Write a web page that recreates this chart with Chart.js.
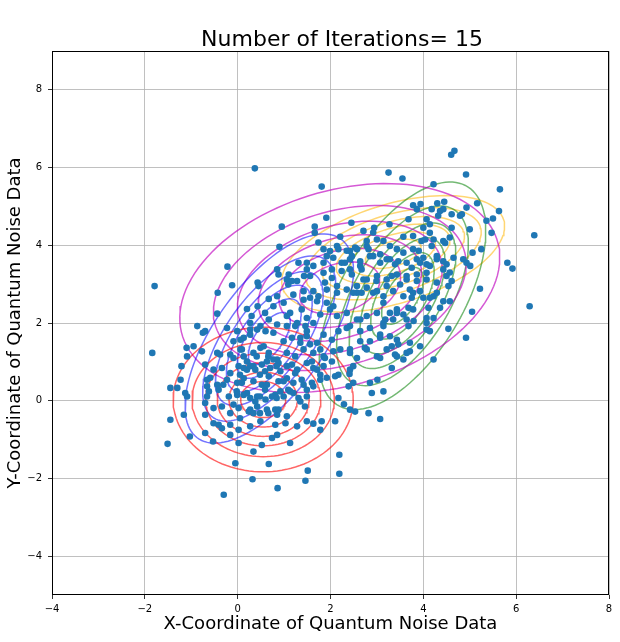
<!DOCTYPE html>
<html>
<head>
<meta charset="utf-8">
<script src="https://cdn.jsdelivr.net/npm/chart.js@4.4.1/dist/chart.umd.min.js"></script>
<style>
  html, body { margin: 0; padding: 0; background: #fff; }
  canvas { display: block; }
</style>
</head>
<body>
<canvas id="myChart" width="620" height="642"></canvas>
<script>
// Pontos (x, y)
const noisePoints = [
  [4.60,6.33],[4.67,6.43],[0.37,5.98],[3.25,5.87],[3.55,5.72],[4.92,5.82],[4.22,5.57],[1.81,5.51],[5.65,5.44],[5.16,5.08],
  [5.63,4.88],[5.50,4.69],[5.36,4.63],[5.47,4.32],[3.78,5.03],[3.94,5.06],[4.30,5.08],[4.45,5.12],[3.86,4.93],[4.18,4.93],
  [4.36,4.88],[4.43,4.93],[3.68,4.67],[4.07,4.67],[4.61,4.80],[4.79,4.76],[4.93,4.97],[1.91,4.71],[2.45,4.58],[3.27,4.54],
  [2.71,4.37],[2.94,4.45],[0.95,4.48],[1.66,4.48],[1.66,4.32],[5.00,4.41],[4.61,4.45],[4.00,4.45],[4.14,4.32],[4.22,4.15],
  [4.43,4.11],[4.57,4.20],[3.57,4.22],[3.78,4.24],[3.96,4.11],[0.90,3.96],[2.21,4.22],[2.14,3.98],[1.74,4.07],[1.85,3.90],
  [1.99,3.85],[2.42,3.85],[2.57,3.90],[2.78,3.98],[3.00,4.15],[3.14,4.11],[3.28,3.98],[3.43,3.90],[3.57,3.81],[3.78,3.90],
  [5.06,3.81],[5.25,3.90],[4.86,3.64],[5.81,3.55],[5.92,3.40],[-0.22,3.45],[1.49,3.55],[1.63,3.47],[1.85,3.55],[2.06,3.68],
  [2.24,3.55],[2.42,3.64],[2.64,3.59],[2.85,3.72],[3.07,3.77],[3.28,3.64],[3.46,3.59],[3.64,3.55],[3.86,3.64],[4.07,3.51],
  [4.29,3.64],[4.50,3.51],[4.65,3.68],[0.85,3.38],[0.88,3.25],[1.31,3.55],[1.10,3.25],[1.28,3.08],[1.43,3.21],[1.85,3.29],
  [2.03,3.16],[2.24,3.34],[2.46,3.25],[2.67,3.38],[2.78,3.12],[3.00,3.21],[3.21,3.12],[3.43,3.25],[3.64,3.12],[3.86,3.25],
  [4.07,3.12],[4.29,3.04],[4.50,3.21],[4.61,3.08],[5.22,2.88],[-0.12,2.97],[0.43,3.04],[0.45,2.95],[-0.43,2.78],[1.20,2.73],
  [1.42,2.82],[1.56,2.65],[1.71,2.56],[1.92,2.86],[2.14,2.95],[2.35,2.86],[2.57,2.78],[2.78,2.91],[3.00,2.82],[3.14,2.69],
  [3.35,2.82],[3.57,2.69],[3.78,2.78],[4.00,2.65],[4.22,2.69],[4.43,2.56],[4.57,2.56],[5.05,2.29],[0.67,2.62],[0.85,2.69],
  [0.99,2.52],[0.20,2.36],[0.43,2.43],[-0.44,2.24],[1.13,2.26],[1.38,2.35],[1.49,2.13],[1.78,2.22],[1.99,2.35],[2.14,2.18],
  [2.35,2.26],[2.57,2.09],[2.78,2.18],[3.00,2.26],[3.18,2.09],[3.43,2.26],[3.64,2.09],[3.78,2.35],[4.07,2.00],[4.22,2.13],
  [4.54,1.85],[4.92,1.62],[-0.87,1.92],[-0.75,1.75],[-0.70,1.79],[-0.23,1.87],[-0.01,1.79],[0.27,2.00],[0.49,1.92],[0.67,2.09],
  [0.85,1.96],[1.06,1.92],[1.28,2.00],[1.46,1.92],[1.63,2.00],[1.85,1.70],[2.03,1.57],[2.17,1.79],[2.42,1.92],[2.64,1.79],
  [2.85,1.87],[3.07,1.70],[3.28,1.66],[3.43,1.57],[3.71,1.49],[3.93,1.40],[4.07,1.83],[4.22,1.06],[0.06,1.57],[0.27,1.70],
  [0.42,1.83],[0.60,1.79],[0.77,1.75],[0.99,1.53],[1.17,1.62],[1.35,1.49],[1.49,1.66],[1.71,1.49],[2.21,1.32],[2.42,1.23],
  [2.57,1.10],[2.78,1.32],[3.00,1.14],[3.21,1.32],[3.43,1.14],[3.64,1.23],[3.57,1.06],[-1.10,1.36],[-0.95,1.40],[-0.77,1.27],
  [-0.44,1.23],[-0.16,1.19],[0.06,1.32],[0.34,1.23],[0.49,1.36],[0.67,1.23],[0.85,1.06],[1.06,1.23],[1.24,1.14],[1.42,1.32],
  [1.63,1.23],[1.85,1.14],[-1.21,0.89],[-1.23,0.54],[-1.45,0.33],[-1.30,0.33],[-1.13,0.20],[-1.09,0.11],[-0.70,0.93],[-0.52,0.80],
  [-0.34,0.84],[-0.16,0.71],[0.02,0.89],[0.20,0.80],[0.34,0.89],[0.52,0.93],[0.70,0.84],[0.88,0.97],[1.06,0.89],[1.28,0.80],
  [1.49,0.97],[1.71,0.80],[1.85,0.89],[2.10,0.63],[2.42,0.80],[2.49,0.46],[2.85,0.46],[3.01,0.54],[2.39,0.37],[-0.66,0.54],
  [-0.44,0.41],[-0.23,0.54],[-0.01,0.46],[0.13,0.58],[0.34,0.50],[0.52,0.41],[0.67,0.63],[0.88,0.50],[1.06,0.58],[1.20,0.46],
  [1.38,0.54],[1.60,0.46],[1.78,0.54],[2.17,0.07],[2.42,-0.23],[2.53,-0.28],[2.82,-0.32],[3.07,-0.47],[-0.62,0.24],[-0.41,0.28],
  [-0.19,0.11],[-0.01,0.15],[0.20,0.20],[0.27,0.07],[0.42,0.11],[0.60,0.03],[0.81,0.15],[0.99,0.11],[1.13,0.24],[1.31,0.07],
  [1.49,0.11],[-0.70,-0.06],[-0.52,-0.19],[-0.34,-0.15],[-0.16,-0.32],[0.02,-0.19],[0.24,-0.28],[0.42,-0.15],[0.63,-0.23],[0.85,-0.36],
  [1.06,-0.40],[-1.16,-0.36],[-1.45,-0.49],[-0.41,-0.62],[-0.34,-0.71],[-0.16,-0.88],[0.02,-0.75],[0.27,-0.66],[0.49,-0.53],[0.81,-0.62],
  [1.03,-0.58],[1.28,-0.66],[1.49,-0.53],[-1.03,-0.92],[-0.70,-0.83],[-0.53,-1.05],[0.02,-1.09],[0.52,-1.14],[0.85,-0.88],[1.13,-1.09],
  [1.63,-0.59],[1.78,-0.75],[2.10,-0.53],[-1.51,-1.11],[0.34,-1.31],[-0.05,-1.61],[0.67,-1.63],[2.19,-1.39],[1.51,-1.80],[2.19,-1.88],
  [0.32,-2.02],[1.46,-2.06],[0.86,-2.25],[-1.84,1.23],[-1.79,2.95],[6.29,2.43],[-0.30,-2.42],[6.39,4.26],
  [-1.09,1.14],[-0.59,0.59],[-0.66,0.37],[-0.66,0.11],[-0.70,-0.36],[-0.52,-0.58],[-0.16,-0.62],[0.05,-0.45],[-0.31,0.41],[-0.09,-0.10],
  [-0.02,0.24],[0.09,0.46],[0.05,0.67],[0.13,0.84],[0.20,1.01],[-0.38,1.19],[-0.09,1.10],[0.13,1.14],[0.27,0.89],[0.38,0.80],
  [0.48,0.67],[0.59,0.76],[0.63,1.01],[0.66,1.14],[0.41,1.14],[0.56,1.40],[0.13,0.15],[0.38,-0.02],[0.48,0.11],[0.59,0.28],
  [0.63,0.41],[0.74,0.11],[0.84,0.07],[0.92,0.24],[0.27,-0.23],[0.34,-0.32],[0.48,-0.32],[0.66,-0.32],[0.81,-0.23],[0.88,-0.23],
  [0.77,1.06],[0.84,0.89],[0.92,0.76],[1.17,0.93],[1.24,0.71],[0.99,0.50],[1.09,0.28],[1.20,0.20],[1.42,0.41],[1.49,0.28],
  [1.63,0.37],[1.60,1.01],[1.63,0.84],[1.78,0.67],[1.88,1.10],[1.35,-0.02],[1.45,-0.15],[1.81,-0.53],[0.74,-0.96],[0.13,1.62],
  [-0.09,1.53],[0.09,1.32],[0.27,1.83],[1.24,1.92],[1.35,1.62],[1.49,1.79],[1.56,1.45],[1.78,1.32],[2.06,1.27],[2.03,1.01],
  [2.17,0.67],[1.92,0.59],[2.92,4.33],[4.32,4.76],[4.14,4.54],[4.04,4.15],[4.18,3.98],[4.83,4.80],[4.93,3.55],[5.01,3.47],
  [4.54,2.95],[4.57,3.30],[4.29,2.78],[4.14,2.65],[4.11,2.39],[4.36,2.39],[4.43,3.38],[4.43,3.59],[4.47,4.06],[4.29,3.72],
  [4.14,3.47],[4.00,3.68],[3.90,3.86],[3.93,3.55],[3.75,3.42],[3.64,3.21],[3.50,2.99],[3.71,2.86],[3.21,2.95],[3.32,3.21],
  [3.39,3.51],[3.21,3.64],[3.07,3.55],[2.92,3.72],[2.82,3.90],[2.78,4.11],[2.53,3.94],[2.46,3.72],[2.35,3.86],[2.31,3.55],
  [2.42,3.38],[2.64,3.47],[2.71,3.12],[2.57,2.95],[2.49,2.78],[2.67,2.78],[2.92,2.78],[2.99,3.08],[3.14,2.52],[3.43,2.35],
  [3.68,2.39],[3.75,2.65],[3.93,2.82],[3.86,3.08],[4.07,3.29],[2.64,2.09],[3.28,2.26],[3.35,2.09],[3.57,2.22],[3.79,2.05],
  [4.07,2.13],[3.14,2.00],[2.35,1.87],[3.14,1.92],[3.68,1.92],[4.14,1.79],[2.64,1.53],[2.85,1.53],[2.74,1.36],[2.42,1.32],
  [3.07,1.62],[3.32,1.40],[3.46,1.45],[3.39,1.19],[3.71,1.27],[3.07,1.10],[3.32,0.84],[2.49,0.89],[2.41,0.69],[2.89,0.20],
  [3.14,0.24],[2.29,-0.09],[1.06,3.12],[1.17,3.08],[1.09,2.99],[0.30,2.18],[0.59,2.26],[0.77,2.43],[1.06,2.18],[1.49,3.38],
  [1.92,3.72],[1.56,3.21],[1.42,2.60],[1.63,2.82],[1.74,2.69],[1.88,3.04],[2.03,3.38],[2.14,2.78],[1.92,2.52],[2.06,2.43],
  [2.17,3.90]
];

// Parâmetros das gaussianas (curvas de nível)
const compCenterX   = [0.55, 0.68, 2.20, 3.55, 3.35];
const compCenterY   = [0.03, 1.60, 2.90, 2.70, 3.78];
const compSemiMajor = [1.94, 3.00, 3.62, 3.15, 2.54];
const compSemiMinor = [1.86, 1.24, 2.45, 1.37, 1.25];
const compAngleDeg  = [0, 61, 24.5, 65.8, 22];
const compColors    = ['rgba(255,0,0,0.6)', 'rgba(0,0,255,0.55)', 'rgba(191,0,191,0.65)', 'rgba(0,128,0,0.55)', 'rgba(255,180,0,0.55)'];
const ringScales    = [1, 0.79, 0.64, 0.51, 0.38, 0.25];

// Eixos
const xTickValues = [-4, -2, 0, 2, 4, 6, 8];
const yTickValues = [-4, -2, 0, 2, 4, 6, 8];

const titleText = 'Number of Iterations= 15';
const xLabel = 'X-Coordinate of Quantum Noise Data';
const yLabel = 'Y-Coordinate of Quantum Noise Data';

// contorno de uma elipse no espaço dos dados
function ellipseOutline(c, s) {
  const pts = [];
  const th = compAngleDeg[c] * Math.PI / 180;
  const a = compSemiMajor[c] * s, b = compSemiMinor[c] * s;
  for (let i = 0; i <= 120; i++) {
    const t = i / 120 * 2 * Math.PI;
    const u = a * Math.cos(t), v = b * Math.sin(t);
    pts.push({
      x: compCenterX[c] + u * Math.cos(th) - v * Math.sin(th),
      y: compCenterY[c] + u * Math.sin(th) + v * Math.cos(th)
    });
  }
  return pts;
}

const contourSets = [];
compColors.forEach((col, c) => {
  ringScales.forEach(s => {
    contourSets.push({
      type: 'scatter',
      data: ellipseOutline(c, s),
      showLine: true,
      pointRadius: 0,
      borderColor: col,
      borderWidth: 1.5,
      fill: false,
      order: 1
    });
  });
});

const minus = v => String(v).replace('-', '\u2212');

// fundo branco, moldura e título
const framePlugin = {
  id: 'frame',
  beforeDraw(chart) {
    const ctx = chart.ctx;
    ctx.save();
    ctx.fillStyle = '#fff';
    ctx.fillRect(0, 0, chart.width, chart.height);
    ctx.restore();
  },
  afterDraw(chart) {
    const {ctx, chartArea: a} = chart;
    ctx.save();
    ctx.strokeStyle = '#000';
    ctx.lineWidth = 1;
    ctx.strokeRect(Math.round(a.left) + 0.5, Math.round(a.top) + 0.5,
                   Math.round(a.right - a.left) - 1, Math.round(a.bottom - a.top) - 1);
    ctx.fillStyle = '#000';
    ctx.font = '22px "DejaVu Sans"';
    ctx.textAlign = 'center';
    ctx.textBaseline = 'alphabetic';
    ctx.fillText(titleText, 342, 46);
    ctx.restore();
  }
};

const ctx = document.getElementById('myChart');

new Chart(ctx, {
  type: 'scatter',
  data: {
    datasets: [
      {
        data: noisePoints.map(p => ({x: p[0], y: p[1]})),
        backgroundColor: '#1f77b4',
        borderWidth: 0,
        pointRadius: 3.3,
        order: 0
      },
      ...contourSets
    ]
  },
  options: {
    responsive: false,
    animation: false,
    events: [],
    layout: { padding: { top: 51, right: 11, left: 0, bottom: 0 } },
    plugins: { legend: { display: false }, tooltip: { enabled: false } },
    scales: {
      x: {
        type: 'linear', min: -4, max: 8,
        afterBuildTicks: s => { s.ticks = xTickValues.map(v => ({value: v})); },
        afterFit: s => { s.height = 47; },
        ticks: { color: '#000', font: { family: 'DejaVu Sans', size: 10 }, padding: 4, maxRotation: 0, callback: minus },
        grid: { color: '#b0b0b0', lineWidth: 0.8, tickColor: '#000', tickLength: 4 },
        border: { display: false },
        title: { display: true, text: xLabel, color: '#000', font: { family: 'DejaVu Sans', size: 18 }, padding: { top: 0, bottom: 7 } }
      },
      y: {
        type: 'linear', min: -5, max: 9,
        afterBuildTicks: s => { s.ticks = yTickValues.map(v => ({value: v})); },
        afterFit: s => { s.width = 52; },
        ticks: { color: '#000', font: { family: 'DejaVu Sans', size: 10 }, padding: 6, callback: minus },
        grid: { color: '#b0b0b0', lineWidth: 0.8, tickColor: '#000', tickLength: 4 },
        border: { display: false },
        title: { display: true, text: yLabel, color: '#000', font: { family: 'DejaVu Sans', size: 18 }, padding: { top: 5, bottom: 0 } }
      }
    }
  },
  plugins: [framePlugin]
});
</script>
</body>
</html>
